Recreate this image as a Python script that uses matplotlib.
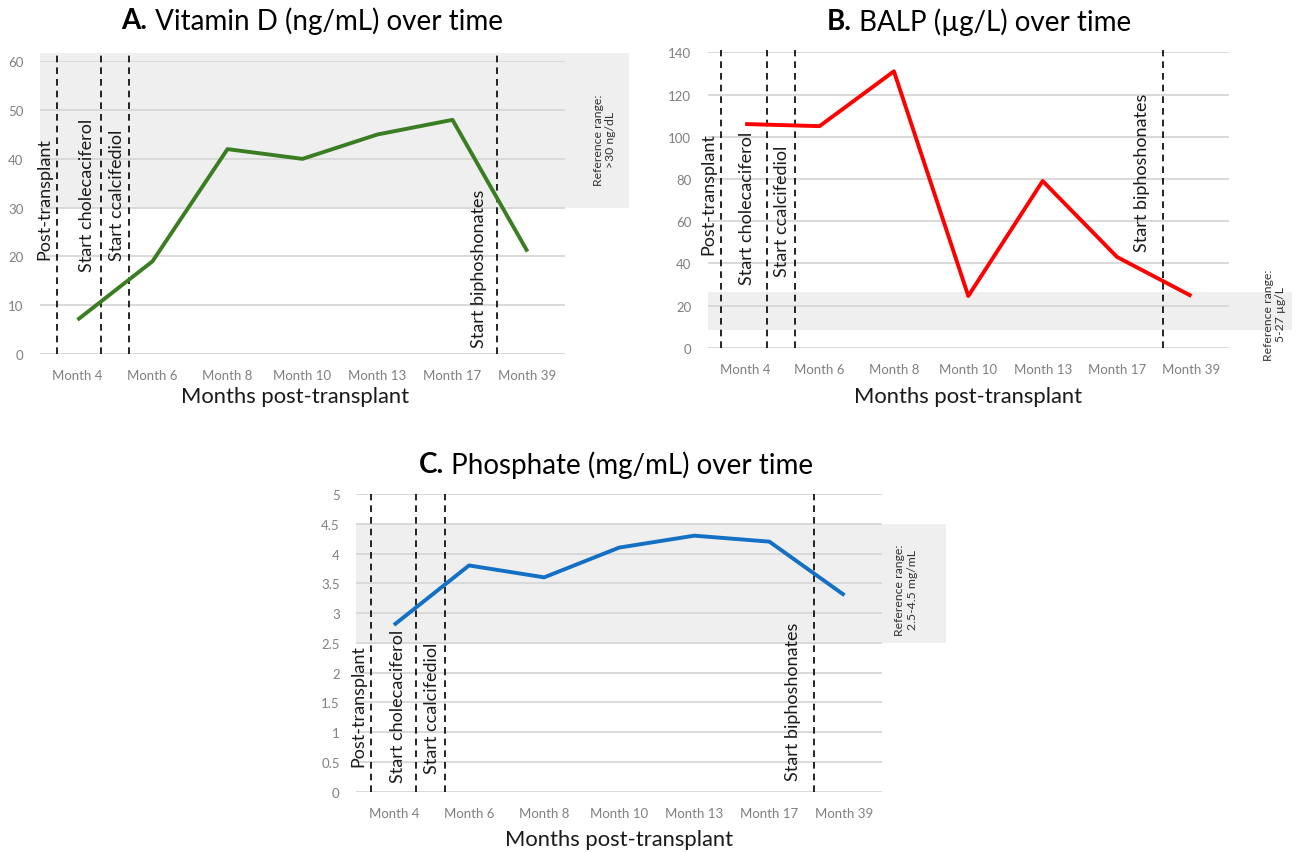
import matplotlib
matplotlib.use("Agg")
import matplotlib.pyplot as plt
from matplotlib.patches import Rectangle

plt.rcParams['font.family'] = ['Lato', 'DejaVu Sans']

months = ["Month 4", "Month 6", "Month 8", "Month 10", "Month 13", "Month 17", "Month 39"]
vitd = [7, 19, 42, 40, 45, 48, 21]
balp = [106, 105, 131, 24.5, 79, 43, 24.5]
phos = [2.8, 3.8, 3.6, 4.1, 4.3, 4.2, 3.3]

event_labels = ["Post-transplant", "Start cholecaciferol", "Start ccalcifediol", "Start biphoshonates"]

fig = plt.figure(figsize=(12.97, 8.53), dpi=100)

GRID = "#d9d9d9"
TICK = "#808080"
BAND = "#efefef"


def panel(rect, vals, color, ylim, ystep, yfmt, band, band_top, event_x, lab_x, lab_y,
          ref_text, ref_xy, tlabel_bold, tlabel, title_xy, xlabel_xy):
    ax = fig.add_axes(rect)
    x = list(range(len(months)))
    ax.set_xlim(-0.5, 6.5)
    ax.set_ylim(*ylim)
    ax.add_patch(Rectangle((-0.5, band[0]), 7.85, band[1] - band[0], transform=ax.transData,
                           facecolor=BAND, edgecolor='none', clip_on=False, zorder=0))
    yt = []
    v = ylim[0]
    while v <= ylim[1] + 1e-9:
        yt.append(round(v, 3))
        v += ystep
    for t in yt:
        ax.axhline(t, color=GRID, lw=1.4, zorder=1)
    ax.set_yticks(yt)
    ax.set_yticklabels([yfmt(t) for t in yt], color=TICK, fontsize=9.5)
    ax.set_xticks(x)
    ax.set_xticklabels(months, color=TICK, fontsize=9.5)
    ax.tick_params(length=0, axis='x', pad=11)
    ax.tick_params(length=0, axis='y', pad=12)
    for s in ax.spines.values():
        s.set_visible(False)
    ax.patch.set_alpha(0)
    for ex in event_x:
        ax.plot([ex, ex], [ylim[0], band_top], ls=(0, (4, 3)), color='black', lw=1.2, zorder=2,
                clip_on=False)
    for lx, ly, lab in zip(lab_x, lab_y, event_labels):
        ax.text(lx, ly, lab, rotation=90, ha='center', va='bottom', fontsize=13, color='#1a1a1a', zorder=3)
    ax.plot(x, vals, color=color, lw=2.8, zorder=4, solid_capstyle='butt')
    ax.text(ref_xy[0], ref_xy[1], ref_text, rotation=90, ha='center', va='center', fontsize=8.8,
            color='#333333', linespacing=1.15, multialignment='center', clip_on=False)
    ax.set_xlabel("Months post-transplant", fontsize=15.8, color='#1a1a1a', labelpad=2)
    ax.xaxis.set_label_coords(*xlabel_xy)
    tb = fig.text(0, 0, tlabel_bold, fontsize=20, fontweight='bold', ha='left', va='center')
    tn = fig.text(0, 0, tlabel, fontsize=20, ha='left', va='center')
    return ax, tb, tn, title_xy


def intfmt(t):
    return str(int(t)) if float(t).is_integer() else str(t)


W, H = 1297.0, 853.0
pA = panel([40 / W, 1 - 355 / H, 525 / W, (355 - 62.3) / H], vitd, '#3b7d23', (0, 60), 10, intfmt,
           (30, 61.6), 61.6, [-0.28, 0.31, 0.69, 5.59], [-0.44, 0.13, 0.53, 5.35], [19.5, 17.1, 19.2, 1.4],
           "Reference range:\n>30 ng/dL", (7.03, 44), "A.", " Vitamin D (ng/mL) over time", (312, 21),
           (0.485, -0.108))
pB = panel([708 / W, 1 - 348.7 / H, 520.6 / W, (348.7 - 53.3) / H], balp, '#ff0000', (0, 140), 20, intfmt,
           (8.5, 26.5), 141, [-0.32, 0.29, 0.67, 5.62], [-0.49, 0.03, 0.49, 5.34], [44.4, 30.2, 33.8, 45.7],
           "Reference range:\n5-27 µg/L", (7.12, 16), "B.", " BALP (µg/L) over time", (979, 22),
           (0.5, -0.13))
pC = panel([356.4 / W, 1 - 792.7 / H, 525.6 / W, (792.7 - 495) / H], phos, '#1470c4', (0, 5), 0.5, intfmt,
           (2.5, 4.5), 5.0, [-0.30, 0.29, 0.68, 5.60], [-0.47, 0.055, 0.51, 5.31], [0.44, 0.16, 0.32, 0.2],
           "Reference range:\n2.5-4.5 mg/mL", (6.82, 3.4), "C.", " Phosphate (mg/mL) over time", (616, 465),
           (0.5, -0.126))

fig.canvas.draw()
r = fig.canvas.get_renderer()
for ax, tb, tn, (cx, cy) in [pA, pB, pC]:
    wb = tb.get_window_extent(r).width
    wn = tn.get_window_extent(r).width
    total = wb + wn
    x0 = cx - total / 2
    tb.set_position((x0 / W, 1 - cy / H))
    tn.set_position(((x0 + wb) / W, 1 - cy / H))

fig.savefig("out.png", dpi=100, facecolor='white')
